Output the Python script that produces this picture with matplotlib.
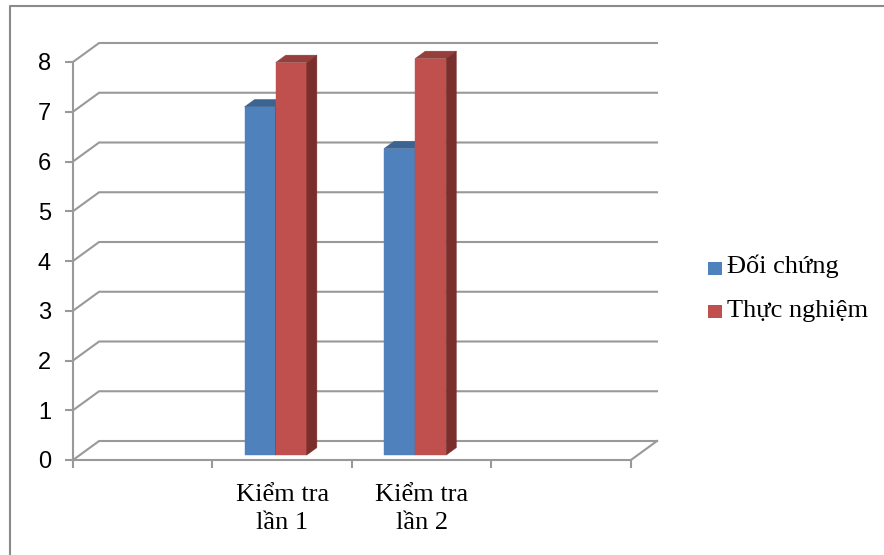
import matplotlib.pyplot as plt
from matplotlib.patches import Polygon, Rectangle
from matplotlib.lines import Line2D

# Data
categories = ["", "Kiểm tra\nlần 1", "Kiểm tra\nlần 2", ""]
series_names = ["Đối chứng", "Thực nghiệm"]
doi_chung = [None, 7.0, 6.16, None]
thuc_nghiem = [None, 7.89, 7.97, None]
y_ticks = list(range(0, 9))

face_colors = ["#4f81bd", "#c0504d"]
top_colors = ["#3c6493", "#953e3b"]
side_colors = ["#30507a", "#7a2f2d"]
grid_color = "#999999"

W, H, DPI = 884, 555, 100
fig = plt.figure(figsize=(W / DPI, H / DPI), dpi=DPI)

# oblique depth offset (category units, value units) for the full floor depth
DX = 26 / 139
DY = 19 / 49.75
Z0, Z1 = 0.26, 0.65  # bar depth range
BAR_W = 0.223
n_cat = len(categories)
y_max = y_ticks[-1]


def proj(x, y, z):
    return (x + z * DX, y + z * DY)


ax = fig.add_axes([73 / W, (H - 460) / H, (657 - 73) / W, (460 - 43) / H])
ax.set_xlim(0, n_cat + DX)
ax.set_ylim(0, y_max + DY)
for s in ["top", "right"]:
    ax.spines[s].set_visible(False)
for s in ["left", "bottom"]:
    ax.spines[s].set_color(grid_color)
    ax.spines[s].set_linewidth(1.5)
ax.spines["left"].set_bounds(0, y_max)
ax.spines["bottom"].set_bounds(0, n_cat)

# gridlines: front edge up to the back wall
for v in y_ticks:
    xs, ys = zip(proj(0, v, 0), proj(0, v, 1), proj(n_cat, v, 1))
    ax.plot(xs, ys, color=grid_color, lw=1.5, zorder=1, clip_on=False)
xs, ys = zip(proj(n_cat, 0, 0), proj(n_cat, 0, 1))
ax.plot(xs, ys, color=grid_color, lw=1.5, zorder=1, clip_on=False)

# 3D columns
for i in range(n_cat):
    vals = [doi_chung[i], thuc_nghiem[i]]
    center = i + 0.404
    for k, v in enumerate(vals):
        if v is None:
            continue
        a = center - BAR_W + k * BAR_W
        b = a + BAR_W
        front = [proj(a, 0, Z0), proj(b, 0, Z0), proj(b, v, Z0), proj(a, v, Z0)]
        top = [proj(a, v, Z0), proj(b, v, Z0), proj(b, v, Z1), proj(a, v, Z1)]
        side = [proj(b, 0, Z0), proj(b, 0, Z1), proj(b, v, Z1), proj(b, v, Z0)]
        z = 3 + i * 2 + k
        for pts, c in [(front, face_colors[k]), (top, top_colors[k]), (side, side_colors[k])]:
            ax.add_patch(Polygon(pts, closed=True, facecolor=c, edgecolor=c,
                                 lw=0.3, zorder=z, clip_on=False))

# ticks and labels
ax.set_yticks(y_ticks)
ax.set_yticklabels([str(t) for t in y_ticks], fontsize=17, family="Liberation Sans")
ax.tick_params(axis="y", length=5.8, width=1.5, color=grid_color, pad=10)
ax.set_xticks(range(n_cat + 1))
ax.set_xticklabels([])
ax.tick_params(axis="x", which="major", length=5.5, width=1.5, color=grid_color)
ax.set_xticks([i + 0.5 for i in range(n_cat)], minor=True)
ax.set_xticklabels(categories, minor=True, fontsize=19, family="Liberation Serif",
                   linespacing=1.35)
ax.tick_params(axis="x", which="minor", length=0, pad=17)

# legend
leg_y = [262, 305]
for k, name in enumerate(series_names):
    fig.add_artist(Rectangle((708 / W, (H - leg_y[k] - 13) / H), 14 / W, 13 / H,
                             transform=fig.transFigure, facecolor=face_colors[k],
                             edgecolor="none"))
    fig.text(727 / W, (H - leg_y[k] - 11.5) / H, name, fontsize=19,
             family="Liberation Serif", va="baseline", ha="left")

# chart border
fig.add_artist(Line2D([9.5 / W, 9.5 / W, 1.0], [0.0, (H - 5.5) / H, (H - 5.5) / H],
                      transform=fig.transFigure, color="#8a8a8a", lw=1.5))

fig.savefig("out.png", dpi=DPI)
